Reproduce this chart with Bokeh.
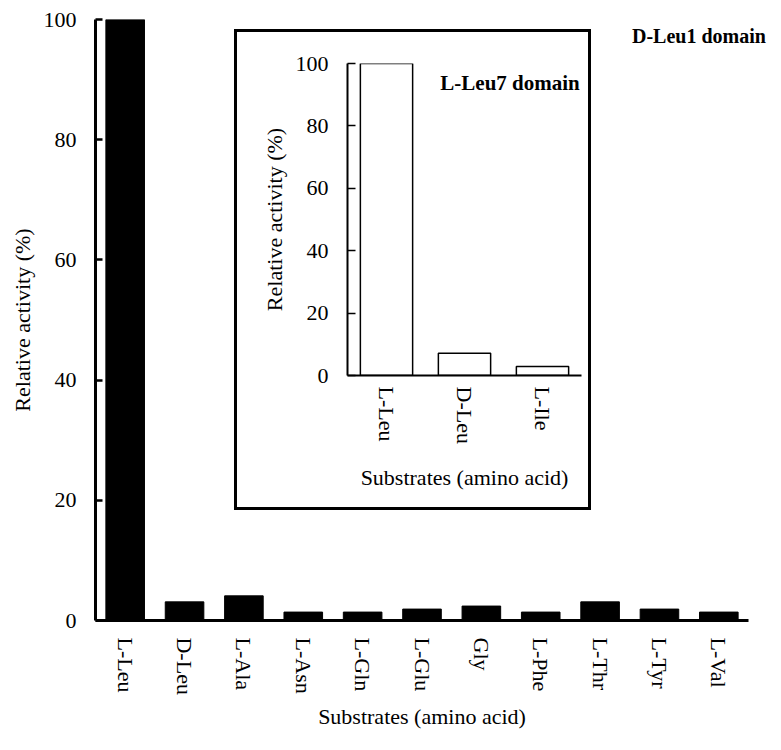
from bokeh.plotting import figure
from bokeh.layouts import column
from bokeh.models import Range1d, FixedTicker, Label, Div
from bokeh.embed import file_html
from bokeh.resources import INLINE

# ---- data: main chart (D-Leu1 domain) ----
main_substrates = ["L-Leu", "D-Leu", "L-Ala", "L-Asn", "L-Gln", "L-Glu",
                   "Gly", "L-Phe", "L-Thr", "L-Tyr", "L-Val"]
main_activity = [100, 3.1, 4.1, 1.4, 1.4, 1.9, 2.4, 1.4, 3.1, 1.9, 1.4]

# ---- data: inset chart (L-Leu7 domain) ----
inset_substrates = ["L-Leu", "D-Leu", "L-Ile"]
inset_activity = [100, 7.1, 2.9]

y_ticks = [0, 20, 40, 60, 80, 100]
y_label = "Relative activity (%)"
x_label = "Substrates (amino acid)"
main_title = "D-Leu1 domain"
inset_title = "L-Leu7 domain"

FONT = "Liberation Serif"
SIZE = "22px"
BORDER_L = 100   # left border shared by both figures (column aligns them)
BORDER_R = 12


def cat_positions(cats):
    # slot centres for categories on a numeric axis (slot i spans i..i+1)
    return [i + 0.5 for i in range(len(cats))]


def style_axes(fig, cats, axis_w, tick_w, tick_len, ylab_stand, ytick_stand,
               xlab_stand, xtick_stand):
    fig.xgrid.visible = False
    fig.ygrid.visible = False
    fig.outline_line_color = None
    for ax in (fig.xaxis[0], fig.yaxis[0]):
        ax.axis_line_width = axis_w
        ax.axis_line_color = "black"
        ax.major_label_text_font = FONT
        ax.major_label_text_font_size = SIZE
        ax.major_label_text_color = "black"
        ax.axis_label_text_font = FONT
        ax.axis_label_text_font_size = SIZE
        ax.axis_label_text_font_style = "normal"
        ax.axis_label_text_color = "black"
        ax.minor_tick_line_color = None
    pos = cat_positions(cats)
    xa = fig.xaxis[0]
    xa.ticker = FixedTicker(ticks=pos)
    xa.major_label_overrides = {x: c for x, c in zip(pos, cats)}
    xa.bounds = (0, len(cats))
    xa.major_tick_line_color = None
    xa.major_label_orientation = "vertical"
    xa.major_label_standoff = xtick_stand
    xa.axis_label_standoff = xlab_stand
    xa.axis_label = x_label
    ya = fig.yaxis[0]
    ya.ticker = FixedTicker(ticks=y_ticks)
    ya.major_tick_in = tick_len
    ya.major_tick_out = 0
    ya.major_tick_line_width = tick_w
    ya.major_tick_line_color = "black"
    ya.major_label_standoff = ytick_stand
    ya.axis_label_standoff = ylab_stand
    ya.axis_label = y_label


# ---------------- main figure ----------------
p = figure(width=768, height=734,
           x_range=Range1d(0, len(main_substrates)),
           y_range=Range1d(0, 100),
           output_backend="svg", toolbar_location=None,
           min_border_left=BORDER_L, min_border_right=BORDER_R,
           min_border_top=19, min_border_bottom=114,
           background_fill_color="white", border_fill_color="white")
p.vbar(x=cat_positions(main_substrates), top=main_activity, width=0.65,
       fill_color="black", line_color="black")
style_axes(p, main_substrates, axis_w=3, tick_w=2.5, tick_len=7,
           ylab_stand=6, ytick_stand=19, xlab_stand=6, xtick_stand=11)
p.margin = (0, 0, 0, -5)

# ---------------- inset figure ----------------
inset = figure(width=346, height=481,
               x_range=Range1d(0, len(inset_substrates)),
               y_range=Range1d(0, 100),
               output_backend="svg", toolbar_location=None,
               min_border_left=BORDER_L, min_border_right=BORDER_R,
               min_border_top=31, min_border_bottom=138,
               background_fill_color="white", border_fill_color="white")
inset.vbar(x=cat_positions(inset_substrates), top=inset_activity, width=0.67,
           fill_color="white", line_color="black", line_width=1.5)
style_axes(inset, inset_substrates, axis_w=2, tick_w=1.5, tick_len=8,
           ylab_stand=6, ytick_stand=19, xlab_stand=18, xtick_stand=5)
inset.add_layout(Label(x=1.19, y=93.9, text=inset_title, text_font=FONT,
                       text_font_size="21px", text_font_style="bold",
                       text_color="black", text_baseline="alphabetic"))
inset.margin = (-702, 0, 0, 247)

# frame drawn round the inset
box = Div(text="", width=357, height=481,
          styles={"border": "3px solid black", "background": "transparent"})
box.margin = (-484, 0, 0, 234)

# label of the main chart
title_div = Div(text=main_title, width=133, height=24,
                styles={"font-family": FONT, "font-size": "20px",
                        "font-weight": "bold", "color": "black",
                        "white-space": "nowrap", "line-height": "24px"})
title_div.margin = (-486, 0, 681, 632)

layout = column(p, inset, box, title_div)
open("out.html", "w").write(file_html(layout, INLINE))
